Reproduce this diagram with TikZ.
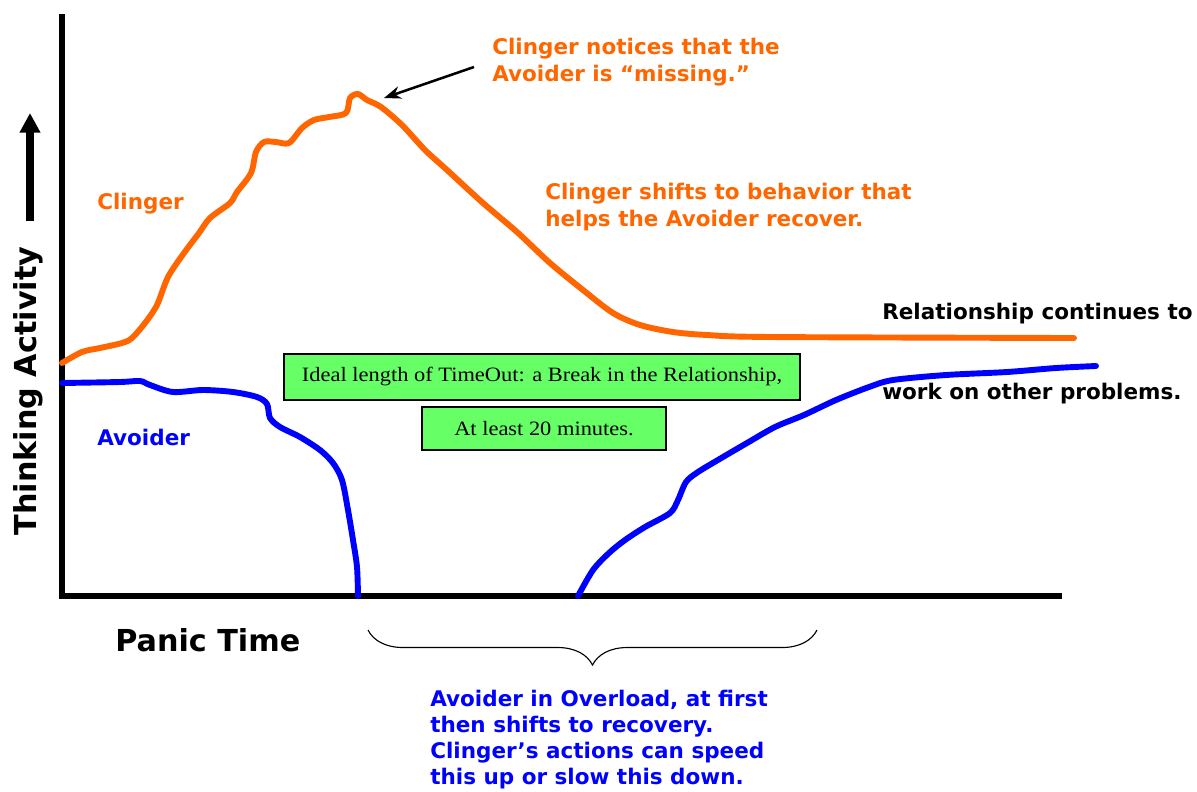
\documentclass[tikz,border=0pt]{standalone}
\usepackage{fontspec}
\usepackage{tikz}
\usepackage{xcolor}
\usetikzlibrary{arrows.meta, positioning, calc, decorations.pathreplacing}
\newfontfamily\chartfont{DejaVu Sans}
\newfontfamily\boxfont[FakeStretch=1.1]{Liberation Serif}
\definecolor{clingerorange}{HTML}{FF6600}
\definecolor{avoiderblue}{HTML}{0000FF}
\definecolor{boxgreen}{HTML}{66FF66}

\begin{document}
\begin{tikzpicture}[x=0.025cm, y=-0.025cm]
		% Define styles for axes, curves, notes and boxes
		\tikzstyle{axis} = [line width=3.6pt, black, line join=miter]
		\tikzstyle{curve} = [line width=4.2pt, line cap=round, line join=round]
		\tikzstyle{note} = [inner sep=0pt, align=left, font=\chartfont\bfseries\fontsize{15.3}{19.2}\selectfont]
		\tikzstyle{bigtitle} = [inner sep=0pt, font=\chartfont\bfseries\fontsize{21.5}{25}\selectfont]
		\tikzstyle{timebox} = [rectangle, draw=black, line width=1.6pt, fill=boxgreen, font=\boxfont\fontsize{14.5}{17}\selectfont]
		\tikzstyle{arrow} = [line width=1.8pt, -{Stealth[length=12pt, width=9pt]}]
		\tikzstyle{uparrow} = [line width=5pt, -{Triangle[length=14pt, width=14pt]}]
		\useasboundingbox (0,0) rectangle (1197,791);
		
		% Draw the axes
		\coordinate (ytop) at (62,14);
		\coordinate (origin) at (62,596);
		\coordinate (xend) at (1062,596);
		\draw [axis] (ytop) -- (origin) -- (xend);
		
		% Label the axes
		\node[bigtitle, rotate=90] (ylabel) at (28,391) {Thinking Activity};
		\coordinate (ytip) at (30,113);
		\draw [uparrow] ($(ylabel.east)+(2,-25)$) -- (ytip);
		\node[bigtitle, anchor=west] (panic) at (115,640) {Panic Time};
		
		% Draw the Clinger curve
		\draw [curve, clingerorange] plot[smooth, tension=0.5] coordinates {(62,363) (82,352) (100,348) (122,343) (132,338) (145,323) (157,305) (168,277) (184,253) (199,233) (210,218) (230,203) (237,192) (251,173) (256,152) (264,142) (276,142) (289,143) (302,128) (314,120) (329,117) (346,113) (350,98) (358,94) (367,100) (381,107) (402,125) (425,150) (447,170) (483,203) (517,232) (550,263) (583,290) (613,313) (640,325) (673,332) (707,335) (771,337) (1074,338)};
		
		% Draw the Avoider curve, down and back up
		\draw [curve, avoiderblue] plot[smooth, tension=0.5] coordinates {(62,383) (120,382) (140,381) (150,385) (173,392) (203,390) (233,392) (257,397) (267,404) (270,418) (280,427) (300,437) (320,450) (333,463) (342,480) (348,510) (353,540) (357,567) (358,596)};
		\draw [curve, avoiderblue] plot[smooth, tension=0.5] coordinates {(578,596) (593,570) (609,553) (625,540) (645,527) (670,513) (678,500) (686,482) (698,472) (723,457) (747,443) (775,427) (804,415) (836,400) (869,387) (893,380) (946,375) (1007,372) (1056,368) (1096,366)};
		
		% Name the curves
		\node[note, clingerorange, anchor=west] (clingerlabel) at (97,204) {Clinger};
		\node[note, avoiderblue, anchor=west] (avoiderlabel) at (97,437) {Avoider};
		
		% Annotate the peak
		\node[note, clingerorange, anchor=west] (noticenote) at (492,62) {Clinger notices that the\\Avoider is “missing.”};
		\coordinate (peak) at (384,98);
		\draw [arrow] ($(noticenote.west)+(-18,5)$) -- (peak);
		\node[note, clingerorange, anchor=west] (shiftnote) at (545,207) {Clinger shifts to behavior that\\helps the Avoider recover.};
		\node[note, anchor=west] (continuesnote) at (882,314) {Relationship continues to};
		\node[note, anchor=west] (problemsnote) at (882,394) {work on other problems.};
		
		% Draw the TimeOut boxes
		\node[timebox, minimum width=12.9cm, minimum height=1.15cm] (idealbox) at (542,377) {Ideal length of TimeOut: a Break in the Relationship,};
		\node[timebox, minimum width=6.1cm, minimum height=1.07cm, below=0.12cm of idealbox, xshift=0.05cm] (leastbox) {At least 20 minutes.};
		
		% Brace under the overload span
		\coordinate (braceL) at (368,630);
		\coordinate (braceR) at (817,630);
		\draw [decorate, decoration={brace, amplitude=0.875cm, mirror}, line width=0.8pt] (braceL) -- (braceR);
		\node[note, avoiderblue, anchor=west, font=\chartfont\bfseries\fontsize{15.3}{18.5}\selectfont] (overloadnote) at (430,740) {Avoider in Overload, at first\\then shifts to recovery.\\Clinger’s actions can speed\\this up or slow this down.};
	
	\end{tikzpicture}
\end{document}
